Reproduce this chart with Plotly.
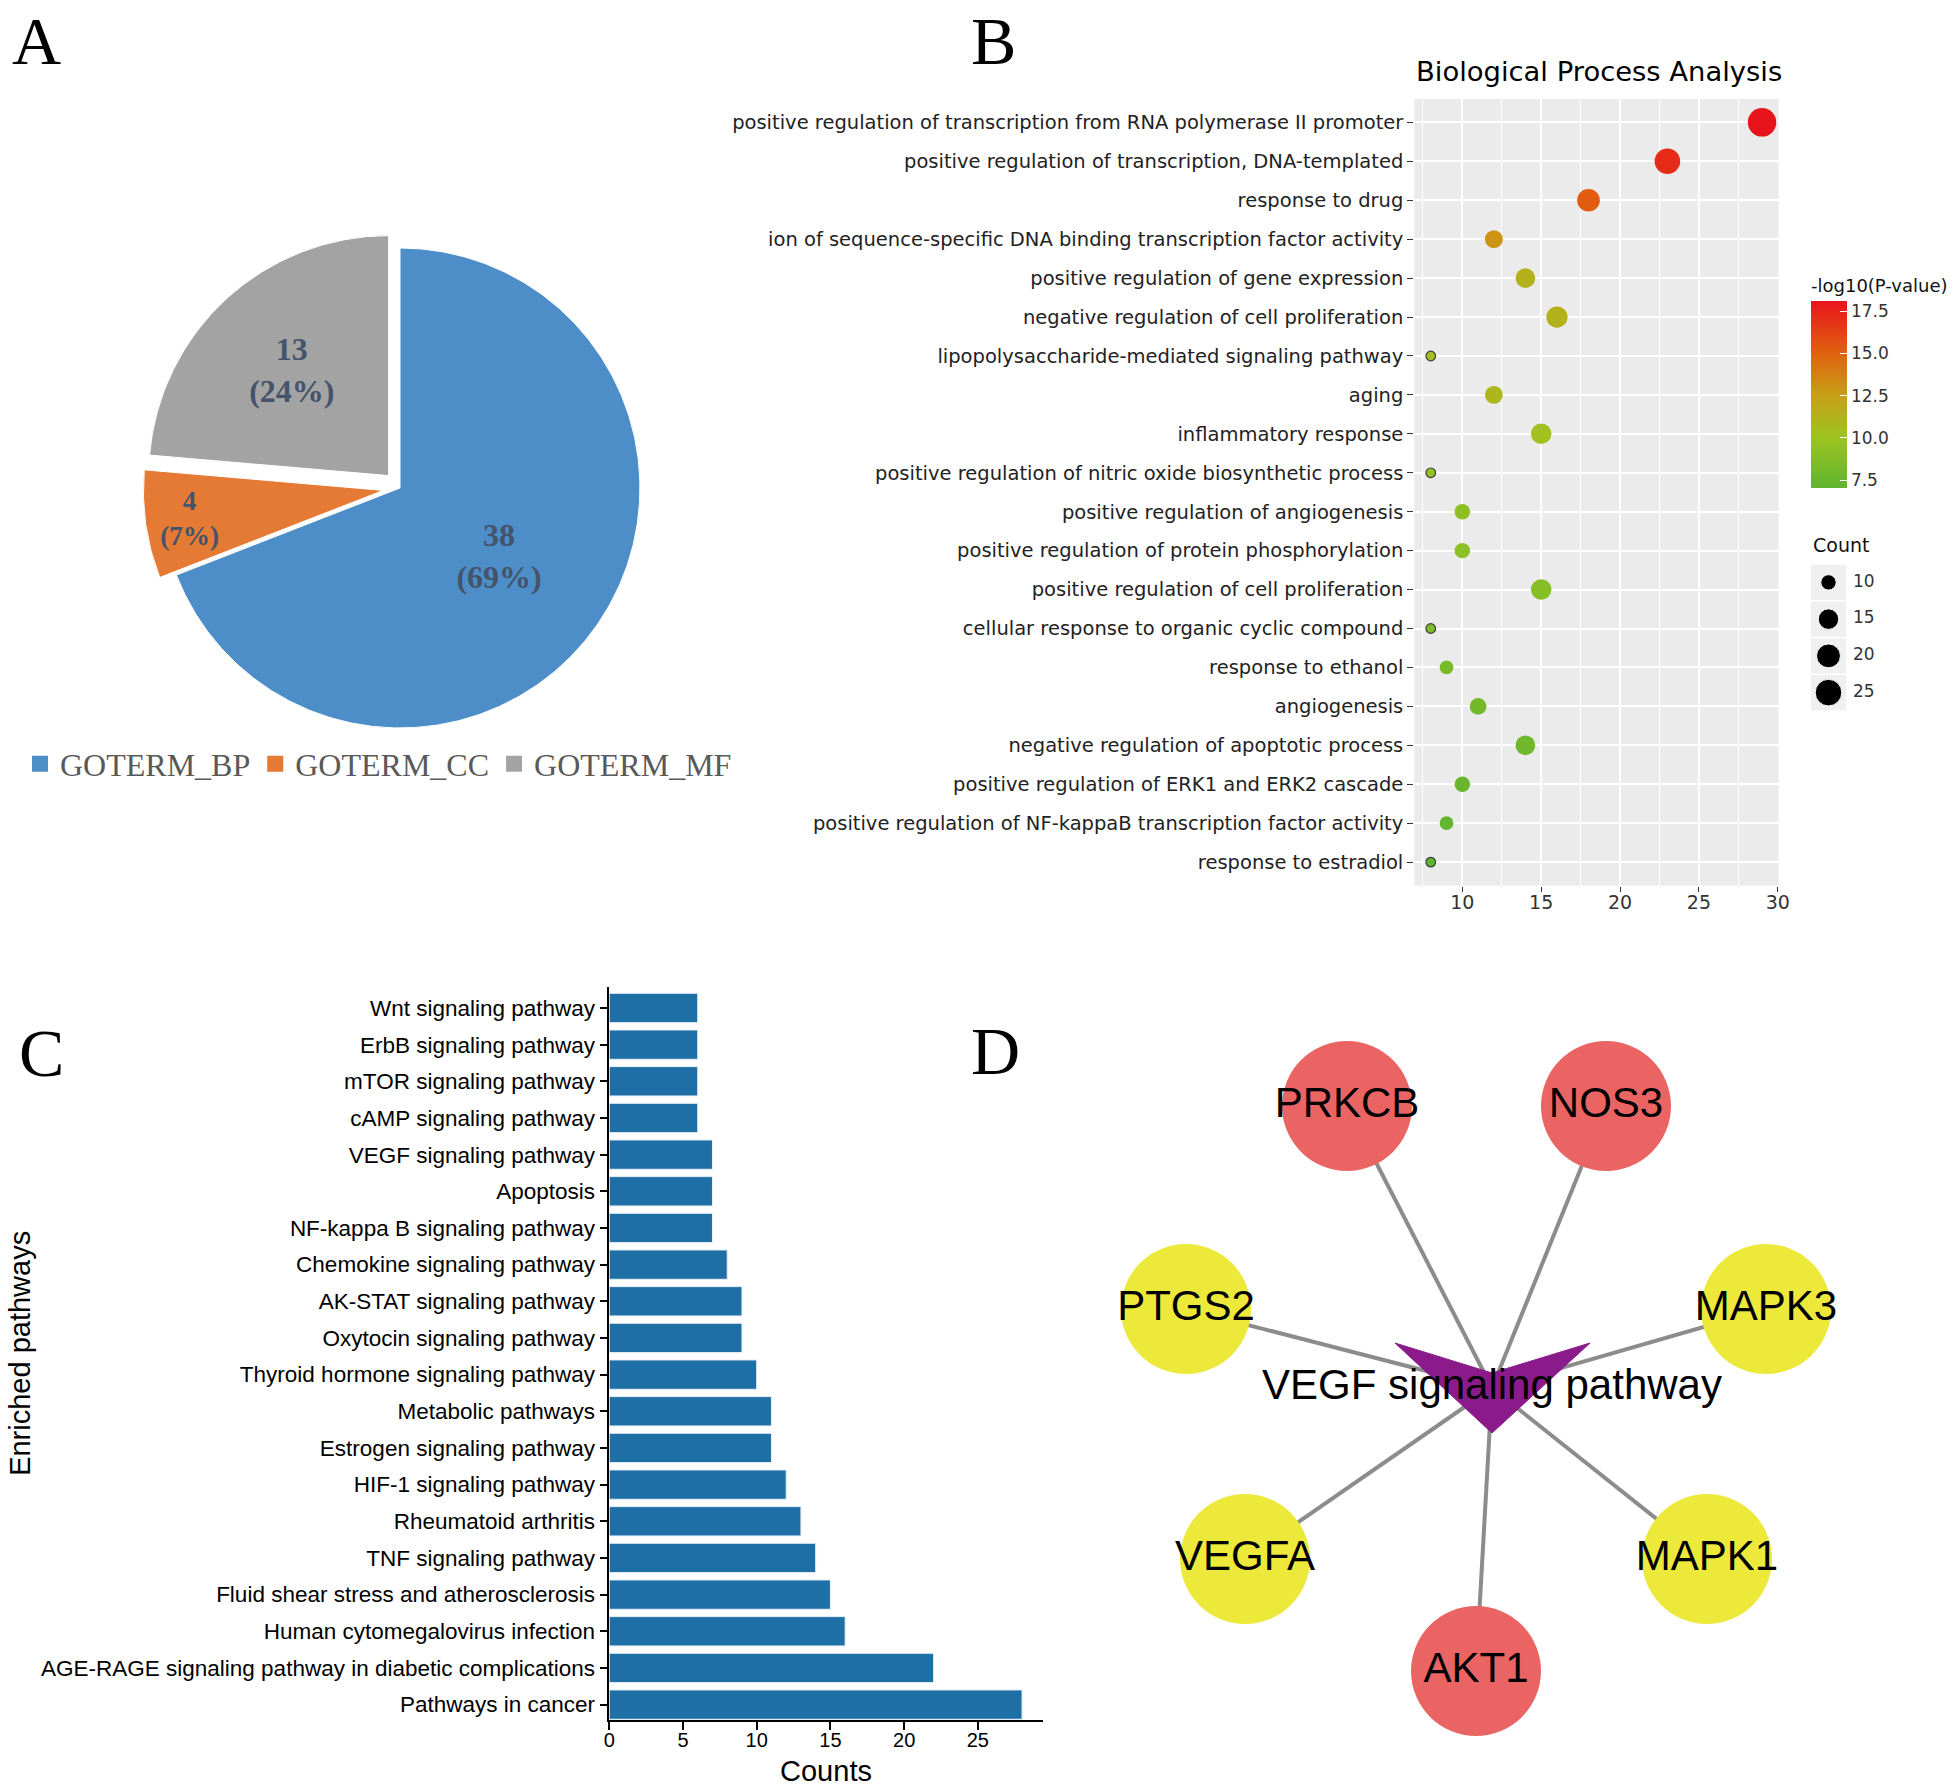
import numpy as np
import plotly.graph_objects as go

W, H = 1960, 1791


def fx(p):
    return p / W


def fy(p):
    return 1 - p / H


# ---------------- data ----------------
# Panel A
go_terms = ["GOTERM_BP", "GOTERM_CC", "GOTERM_MF"]
go_counts = [38, 4, 13]

# Panel B
bp_terms = [
    "positive regulation of transcription from RNA polymerase II promoter",
    "positive regulation of transcription, DNA-templated",
    "response to drug",
    "ion of sequence-specific DNA binding transcription factor activity",
    "positive regulation of gene expression",
    "negative regulation of cell proliferation",
    "lipopolysaccharide-mediated signaling pathway",
    "aging",
    "inflammatory response",
    "positive regulation of nitric oxide biosynthetic process",
    "positive regulation of angiogenesis",
    "positive regulation of protein phosphorylation",
    "positive regulation of cell proliferation",
    "cellular response to organic cyclic compound",
    "response to ethanol",
    "angiogenesis",
    "negative regulation of apoptotic process",
    "positive regulation of ERK1 and ERK2 cascade",
    "positive regulation of NF-kappaB transcription factor activity",
    "response to estradiol",
]
bp_counts = [29, 23, 18, 12, 14, 16, 8, 12, 15, 8, 10, 10, 15, 8, 9, 11, 14, 10, 9, 8]
bp_logp = [18.1, 17.2, 15.3, 13.0, 11.3, 11.3, 10.6, 11.0, 10.2, 9.6,
           9.3, 9.2, 8.9, 8.6, 8.2, 8.0, 7.8, 7.5, 7.3, 7.04]
count_legend_vals = [10, 15, 20, 25]
logp_ticks = [7.5, 10.0, 12.5, 15.0, 17.5]

# Panel C
kegg_terms = [
    "Wnt signaling pathway", "ErbB signaling pathway", "mTOR signaling pathway",
    "cAMP signaling pathway", "VEGF signaling pathway", "Apoptosis",
    "NF-kappa B signaling pathway", "Chemokine signaling pathway",
    "AK-STAT signaling pathway", "Oxytocin signaling pathway",
    "Thyroid hormone signaling pathway", "Metabolic pathways",
    "Estrogen signaling pathway", "HIF-1 signaling pathway", "Rheumatoid arthritis",
    "TNF signaling pathway", "Fluid shear stress and atherosclerosis",
    "Human cytomegalovirus infection",
    "AGE-RAGE signaling pathway in diabetic complications", "Pathways in cancer",
]
kegg_counts = [6, 6, 6, 6, 7, 7, 7, 8, 9, 9, 10, 11, 11, 12, 13, 14, 15, 16, 22, 28]
count_ticks = [0, 5, 10, 15, 20, 25]

# Panel D (network layout, hub at origin)
hub_name = "VEGF signaling pathway"
gene_names = ["PRKCB", "NOS3", "PTGS2", "MAPK3", "VEGFA", "MAPK1", "AKT1"]
gene_x = [-1.45, 1.14, -3.06, 2.74, -2.47, 2.15, -0.16]
gene_y = [2.82, 2.82, 0.79, 0.79, -1.71, -1.71, -2.83]
gene_group = ["high", "high", "low", "low", "low", "low", "high"]

# ---------------- styles ----------------
SERIF = "Liberation Serif, Times New Roman, serif"
SANS = "Liberation Sans, Arial, sans-serif"
DJV = "DejaVu Sans, sans-serif"
pie_colors = ["#4d8ec9", "#e57a35", "#a3a3a3"]
bp_colorscale = [[0.0, "#5fb430"], [0.27, "#9dc420"], [0.49, "#c6a016"],
                 [0.72, "#e0620f"], [1.0, "#e8141c"]]
group_colors = {"high": "#ea6464", "low": "#ece93b"}
V_SHAPE_X = [-0.97, 0.0, 0.98, 0.0, -0.97]
V_SHAPE_Y = [0.45, 0.15, 0.45, -0.45, 0.45]


def size_scale(v, vmin, vmax, dmin=9.6, dmax=28.5):
    """ggplot2-like area palette: diameter grows with sqrt of rescaled value."""
    v = np.asarray(v, dtype=float)
    return dmin + (dmax - dmin) * np.sqrt((v - vmin) / (vmax - vmin))


fig = go.Figure()

# ---------------- Panel A : pie ----------------
pull = 0.07
rad = 240
cx, cy = 400, 488
half = rad * (1 + pull)
fig.add_trace(go.Pie(
    labels=go_terms, values=go_counts, sort=False, direction="clockwise", rotation=0,
    pull=[0, pull, pull],
    marker=dict(colors=pie_colors, line=dict(color="white", width=1)),
    texttemplate="%{value}<br>(%{percent:.0%})", textposition="inside",
    insidetextorientation="horizontal",
    textfont=dict(family=SERIF, size=32, color="#44546a", weight="bold"),
    domain=dict(x=[fx(cx - half), fx(cx + half)], y=[fy(cy + half), fy(cy - half)]),
    showlegend=False, hoverinfo="label+value+percent",
))
# legend entries for the pie (square keys)
for name, col in zip(go_terms, pie_colors):
    fig.add_trace(go.Scatter(x=[None], y=[None], mode="markers", name=name,
                             marker=dict(symbol="square", size=16, color=col),
                             xaxis="x3", yaxis="y3", showlegend=True))

# ---------------- Panel B : bubble plot ----------------
bp_vmin, bp_vmax = min(bp_counts), max(bp_counts)
bp_sizes = size_scale(bp_counts, bp_vmin, bp_vmax)
fig.add_trace(go.Scatter(
    x=bp_counts, y=bp_terms, mode="markers", xaxis="x", yaxis="y",
    marker=dict(size=bp_sizes, color=bp_logp, colorscale=bp_colorscale,
                cmin=min(bp_logp), cmax=max(bp_logp), opacity=1,
                line=dict(color="#3a3a3a",
                          width=[1.2 if c == bp_vmin else 0 for c in bp_counts]),
                colorbar=dict(
                    x=fx(1811), xanchor="left", xpad=0, ypad=0,
                    y=fy(488), yanchor="bottom",
                    len=488 - 275, lenmode="pixels", thickness=36,
                    thicknessmode="pixels",
                    outlinewidth=0, ticks="inside", ticklen=7, tickcolor="white",
                    tickwidth=1.2, tickvals=logp_ticks,
                    ticktext=[f"{t:.1f}" for t in logp_ticks],
                    tickfont=dict(family=DJV, size=17, color="#333333"),
                    title=dict(text="-log10(P-value)", side="top",
                               font=dict(family=DJV, size=18, color="#111111")),
                )),
    showlegend=False,
))

# count legend (mini axes): key column is 1 unit wide (35 px)
leg_sizes = size_scale(count_legend_vals, bp_vmin, bp_vmax)
fig.add_trace(go.Scatter(
    x=[0.5] * len(count_legend_vals), y=count_legend_vals, mode="markers",
    xaxis="x4", yaxis="y4", marker=dict(size=leg_sizes, color="#000000", opacity=1),
    showlegend=False, hoverinfo="skip"))
fig.add_trace(go.Scatter(
    x=[1.2] * len(count_legend_vals), y=count_legend_vals, mode="text",
    text=[str(v) for v in count_legend_vals], textposition="middle right",
    textfont=dict(family=DJV, size=17, color="#333333"),
    xaxis="x4", yaxis="y4", showlegend=False, hoverinfo="skip"))

# ---------------- Panel C : horizontal bars ----------------
fig.add_trace(go.Bar(
    x=kegg_counts, y=kegg_terms, orientation="h", xaxis="x2", yaxis="y2",
    marker=dict(color="#1f6fa7", line=dict(color="#e8f0f8", width=1)),
    showlegend=False))

# ---------------- Panel D : network ----------------
ex, ey = [], []
for gx, gy in zip(gene_x, gene_y):
    ex += [0, gx, None]
    ey += [0, gy, None]
fig.add_trace(go.Scatter(x=ex, y=ey, mode="lines", xaxis="x3", yaxis="y3",
                         line=dict(color="#8c8c8c", width=4), showlegend=False,
                         hoverinfo="skip"))
fig.add_trace(go.Scatter(x=V_SHAPE_X, y=V_SHAPE_Y, mode="lines", fill="toself",
                         fillcolor="#8b1b8b", line=dict(color="#8b1b8b", width=1),
                         xaxis="x3", yaxis="y3", showlegend=False, hoverinfo="skip"))
fig.add_trace(go.Scatter(
    x=gene_x, y=gene_y, mode="markers+text", text=gene_names,
    textposition="middle center",
    textfont=dict(family=SANS, size=42, color="black"),
    marker=dict(size=130, color=[group_colors[g] for g in gene_group]),
    xaxis="x3", yaxis="y3", showlegend=False))
fig.add_trace(go.Scatter(x=[0], y=[0], mode="text", text=[hub_name],
                         textposition="middle center",
                         textfont=dict(family=SANS, size=42, color="black"),
                         xaxis="x3", yaxis="y3", showlegend=False))

# ---------------- layout ----------------
shapes = [dict(type="rect", xref="x domain", yref="y domain", x0=0, x1=1, y0=0, y1=1,
               fillcolor="#ebebeb", line=dict(width=0), layer="below")]
for v in count_legend_vals:
    shapes.append(dict(type="rect", xref="x4", yref="y4", x0=0, x1=1,
                       y0=v - 2.4, y1=v + 2.4, fillcolor="#f0f0f0",
                       line=dict(width=0), layer="below"))


def letter(t, x, y):
    return dict(text=t, x=fx(x), y=fy(y), xref="paper", yref="paper", showarrow=False,
                xanchor="center", yanchor="middle",
                font=dict(family=SERIF, size=68, color="black"))


annotations = [
    letter("A", 36, 41), letter("B", 993, 41), letter("C", 41, 1053),
    letter("D", 995, 1051),
    dict(text="Biological Process Analysis", x=fx(1414), y=fy(71), xanchor="left",
         yanchor="middle", xref="paper", yref="paper", showarrow=False,
         font=dict(family=DJV, size=27.4, color="black")),
    dict(text="Count", x=fx(1811), y=fy(545), xanchor="left", yanchor="middle",
         xref="paper", yref="paper", showarrow=False,
         font=dict(family=DJV, size=19, color="#111111")),
]

fig.update_layout(
    width=W, height=H, margin=dict(l=0, r=0, t=0, b=0, autoexpand=False),
    paper_bgcolor="white", plot_bgcolor="white",
    bargap=0.2,
    shapes=shapes, annotations=annotations,
    legend=dict(orientation="h", x=fx(20), y=fy(764), xanchor="left", yanchor="middle",
                font=dict(family=SERIF, size=32, color="#595959"),
                itemsizing="trace", itemwidth=30, bgcolor="rgba(0,0,0,0)"),
    # panel B
    xaxis=dict(domain=[fx(1414.2), fx(1778.6)], range=[6.95, 30.05], anchor="y",
               tickvals=[10, 15, 20, 25, 30], showgrid=True, gridcolor="white",
               gridwidth=2.2, zeroline=False, showline=False, ticks="outside",
               ticklen=5, tickcolor="#333333", ticklabelstandoff=-5,
               tickfont=dict(family=DJV, size=19, color="#333333"),
               minor=dict(tickvals=[7.5, 12.5, 17.5, 22.5, 27.5], showgrid=True,
                          gridcolor="white", gridwidth=1, ticks="")),
    yaxis=dict(domain=[fy(885.5), fy(99)], type="category",
               categoryorder="array", categoryarray=bp_terms,
               range=[len(bp_terms) - 0.4, -0.6], anchor="x",
               showgrid=True, gridcolor="white", gridwidth=2.2, zeroline=False,
               ticks="outside", ticklen=6, tickcolor="#333333",
               tickfont=dict(family=DJV, size=19.5, color="#222222")),
    # panel C
    xaxis2=dict(domain=[fx(609.3), fx(1042.7)], range=[0, 29.4], anchor="y2",
                tickvals=count_ticks, showgrid=False, zeroline=False, showline=True,
                linecolor="black", linewidth=1.5, ticks="outside", ticklen=8,
                tickcolor="black", tickwidth=1.5, ticklabelstandoff=-7,
                tickfont=dict(family=SANS, size=20, color="black"),
                title=dict(text="Counts", font=dict(family=SANS, size=29, color="black"),
                           standoff=11)),
    yaxis2=dict(domain=[fy(1720), fy(986.7)], type="category",
                categoryorder="array", categoryarray=kegg_terms[::-1],
                range=[-0.42, len(kegg_terms) - 0.42], anchor="x2",
                showgrid=False, zeroline=False, showline=True, linecolor="black",
                linewidth=1.5, ticks="outside", ticklen=8, tickcolor="black",
                tickwidth=1.5, tickfont=dict(family=SANS, size=22.5, color="black"),
                title=dict(text="Enriched pathways",
                           font=dict(family=SANS, size=29, color="black"), standoff=2)),
    # panel D
    xaxis3=dict(domain=[fx(1100), fx(1900)], range=[-3.92, 4.08], visible=False,
                anchor="y3"),
    yaxis3=dict(domain=[fy(1780), fy(1000)], range=[-3.92, 3.88], visible=False,
                anchor="x3"),
    # count legend axes (keys + labels)
    xaxis4=dict(domain=[fx(1811), fx(1811 + 35 * 2.6)], range=[0, 2.6], visible=False,
                anchor="y4"),
    yaxis4=dict(domain=[fy(711), fy(564)], range=[27.5, 7.5], visible=False,
                anchor="x4"),
)

fig.write_html("out.html", config={"displayModeBar": False},
               post_script="document.body.style.margin='0px';")
